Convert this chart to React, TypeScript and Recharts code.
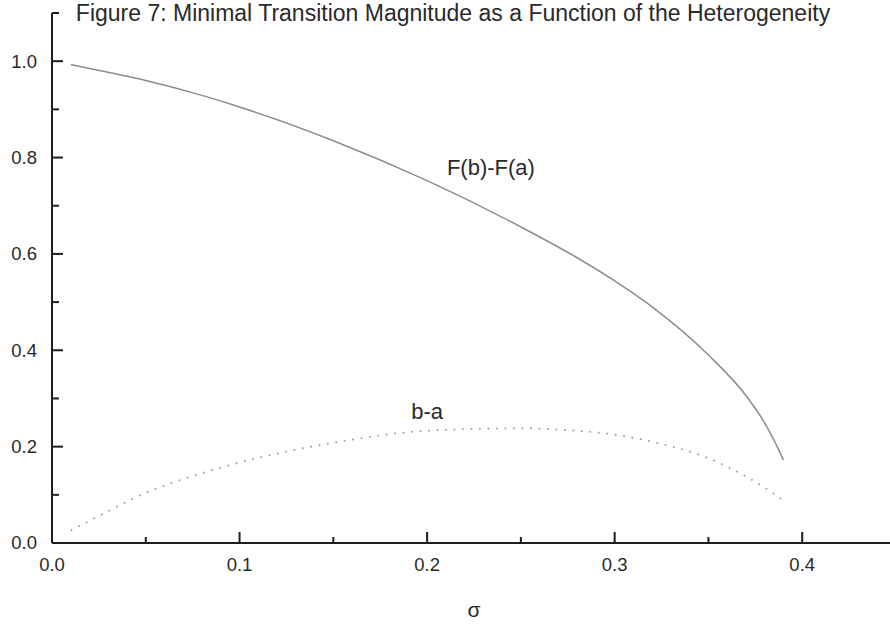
import React from 'react';
import { LineChart, Line, XAxis, YAxis, ReferenceDot } from 'recharts';

// Heterogeneity sigma and the two transition measures
const sigma = [0.01, 0.02, 0.05, 0.08, 0.1, 0.15, 0.2, 0.25, 0.28, 0.3, 0.32, 0.35, 0.37, 0.38, 0.385, 0.39];
const cdfGap = [0.993, 0.985, 0.96, 0.929, 0.905, 0.835, 0.752, 0.656, 0.592, 0.544, 0.49, 0.39, 0.306, 0.249, 0.213, 0.172]; // F(b)-F(a)
const intervalWidth = [0.026, 0.046, 0.104, 0.145, 0.167, 0.208, 0.233, 0.238, 0.233, 0.225, 0.21, 0.176, 0.138, 0.115, 0.102, 0.088]; // b-a

const xTicks = [0, 0.05, 0.1, 0.15, 0.2, 0.25, 0.3, 0.35, 0.4, 0.45];
const xMajor = [0, 0.1, 0.2, 0.3, 0.4];
const yTicks = [0, 0.1, 0.2, 0.3, 0.4, 0.5, 0.6, 0.7, 0.8, 0.9, 1.0, 1.1];
const yMajor = [0, 0.2, 0.4, 0.6, 0.8, 1.0];

const title = 'Figure 7: Minimal Transition Magnitude as a Function of the Heterogeneity';
const xLabel = 'σ';
const cdfGapLabel = { text: 'F(b)-F(a)', sigma: 0.234, value: 0.78 };
const widthLabel = { text: 'b-a', sigma: 0.2, value: 0.274 };

const data = sigma.map((s, i) => ({ sigma: s, cdfGap: cdfGap[i], intervalWidth: intervalWidth[i] }));

const FONT = '"Liberation Sans", Arial, sans-serif';
const AXIS = '#1e1e1e';
const TEXT = '#2a2a2a';

const isMajor = (list: number[], v: number) => list.some((m) => Math.abs(m - v) < 1e-9);

const XTick = (props: any) => {
  const { x, y, payload } = props;
  const v = payload.value as number;
  const major = isMajor(xMajor, v);
  return (
    <g>
      <line x1={x} x2={x} y1={y} y2={y - (major ? 11 : 6)} stroke={AXIS} strokeWidth={2} />
      {major && (
        <text x={x} y={y + 22} dy="0.35em" textAnchor="middle" fontFamily={FONT} fontSize={18.5} fill={TEXT}>
          {v.toFixed(1)}
        </text>
      )}
    </g>
  );
};

const YTick = (props: any) => {
  const { x, y, payload } = props;
  const v = payload.value as number;
  const major = isMajor(yMajor, v);
  return (
    <g>
      <line x1={x} x2={x + (major ? 11 : 7)} y1={y} y2={y} stroke={AXIS} strokeWidth={2} />
      {major && (
        <text x={x - 15} y={y} dy="0.35em" textAnchor="end" fontFamily={FONT} fontSize={18.5} fill={TEXT}>
          {v.toFixed(1)}
        </text>
      )}
    </g>
  );
};

export default function App() {
  return (
    <div style={{ position: 'absolute', left: 0, top: 0, width: 890, height: 626, overflow: 'hidden', background: '#fff' }}>
      <LineChart width={896} height={626} data={data} margin={{ top: 13, right: 0, bottom: 0, left: 0 }}>
        <text x={453} y={21} textAnchor="middle" fontFamily={FONT} fontSize={23} fill={TEXT}>
          {title}
        </text>
        <XAxis
          dataKey="sigma"
          type="number"
          domain={[0, 0.45]}
          ticks={xTicks}
          interval={0}
          height={83}
          tickSize={0}
          tickMargin={0}
          tick={<XTick />}
          axisLine={{ stroke: AXIS, strokeWidth: 2 }}
          tickLine={false}
          label={{ value: xLabel, position: 'insideBottom', offset: 9, fontSize: 21, fill: TEXT, fontFamily: FONT }}
        />
        <YAxis
          type="number"
          domain={[0, 1.1]}
          ticks={yTicks}
          interval={0}
          width={52}
          tickSize={0}
          tickMargin={0}
          tick={<YTick />}
          axisLine={{ stroke: AXIS, strokeWidth: 2 }}
          tickLine={false}
        />
        <Line
          type="monotone"
          dataKey="cdfGap"
          stroke="#8c8c8c"
          strokeWidth={1.5}
          dot={false}
          isAnimationActive={false}
        />
        <Line
          type="monotone"
          dataKey="intervalWidth"
          stroke="#9a9a9a"
          strokeWidth={1.7}
          strokeDasharray="1.7 6.8"
          dot={false}
          isAnimationActive={false}
        />
        <ReferenceDot
          x={cdfGapLabel.sigma}
          y={cdfGapLabel.value}
          r={0}
          fill="none"
          stroke="none"
          label={{ value: cdfGapLabel.text, position: 'center', fontSize: 22, fill: TEXT, fontFamily: FONT }}
        />
        <ReferenceDot
          x={widthLabel.sigma}
          y={widthLabel.value}
          r={0}
          fill="none"
          stroke="none"
          label={{ value: widthLabel.text, position: 'center', fontSize: 22, fill: TEXT, fontFamily: FONT }}
        />
      </LineChart>
    </div>
  );
}
